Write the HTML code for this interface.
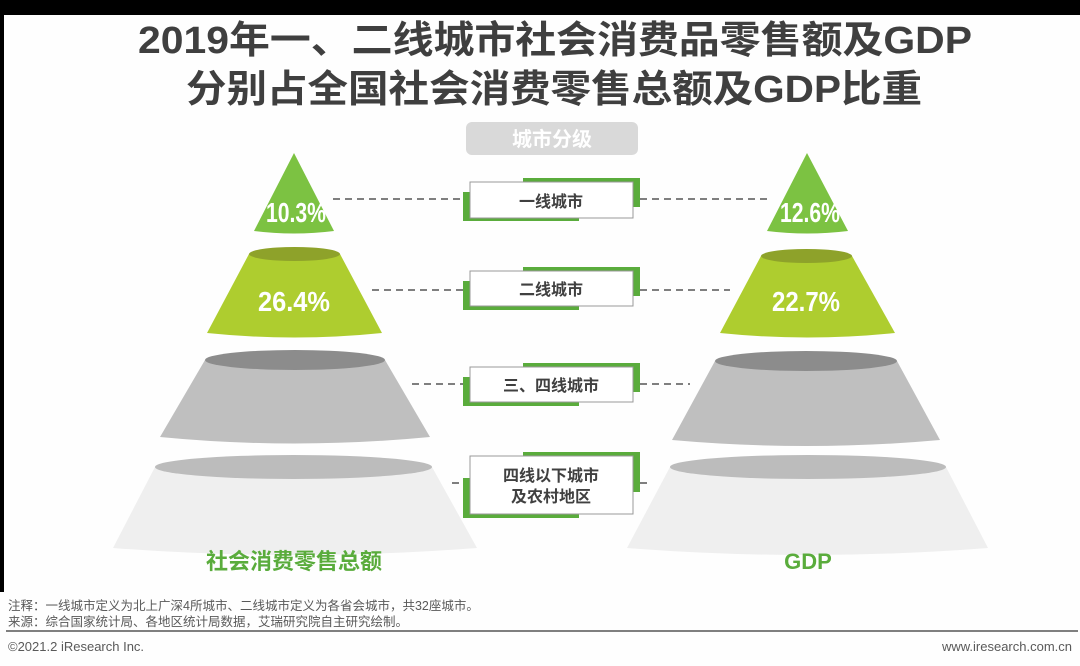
<!DOCTYPE html>
<html><head><meta charset="utf-8"><style>
body{margin:0;width:1080px;height:666px;overflow:hidden;background:#fff;}
svg{display:block}
text{font-family:"Liberation Sans","Noto Sans CJK SC",sans-serif;}
</style></head><body>
<svg width="1080" height="666" viewBox="0 0 1080 666">
<rect width="1080" height="666" fill="#fefefe"/>
<rect x="0" y="0" width="1080" height="15" fill="#000"/>
<rect x="0" y="0" width="4" height="592" fill="#000"/>
<text x="555" y="53" text-anchor="middle" font-size="38" font-weight="bold" fill="#3f3f3f" textLength="834" lengthAdjust="spacingAndGlyphs">2019年一、二线城市社会消费品零售额及GDP</text>
<text x="554" y="102" text-anchor="middle" font-size="38" font-weight="bold" fill="#3f3f3f" textLength="736" lengthAdjust="spacingAndGlyphs">分别占全国社会消费零售总额及GDP比重</text>
<rect x="466" y="122" width="172" height="33" rx="6" fill="#d9d9d9"/>
<text x="552" y="146" text-anchor="middle" font-size="20" font-weight="bold" fill="#fff">城市分级</text>
<g stroke="#555" stroke-width="1.5" stroke-dasharray="7,5">
<line x1="333" y1="199" x2="463" y2="199"/><line x1="640" y1="199" x2="770" y2="199"/>
<line x1="372" y1="290" x2="463" y2="290"/><line x1="640" y1="290" x2="730" y2="290"/>
<line x1="412" y1="384" x2="463" y2="384"/><line x1="640" y1="384" x2="690" y2="384"/>
<line x1="452" y1="483" x2="463" y2="483"/><line x1="640" y1="483" x2="650" y2="483"/>
</g>
<path d="M294,153 L334,231 Q294,236 254,231 Z" fill="#7cc242"/>
<path d="M249,254 L340,254 L382,333 Q294,342 207,333 Z" fill="#aecd2f"/>
<ellipse cx="294.5" cy="254" rx="45.5" ry="7" fill="#8ea22a"/>
<path d="M205,360 L385,360 L430,437 Q294,450 160,437 Z" fill="#bfbfbf"/>
<ellipse cx="295" cy="360" rx="90" ry="10" fill="#8c8c8c"/>
<path d="M155,467 L432,467 L477,548 Q294,562 113,548 Z" fill="#efefef"/>
<ellipse cx="293.5" cy="467" rx="138.5" ry="12" fill="#bcbcbc"/>
<path d="M807,153 L848,231 Q807,236 767,231 Z" fill="#7cc242"/>
<path d="M761,256 L852,256 L895,333 Q807,342 720,333 Z" fill="#aecd2f"/>
<ellipse cx="806.5" cy="256" rx="45.5" ry="7" fill="#8ea22a"/>
<path d="M715,361 L897,361 L940,440 Q807,452 672,440 Z" fill="#bfbfbf"/>
<ellipse cx="806" cy="361" rx="91" ry="10" fill="#8c8c8c"/>
<path d="M670,467 L946,467 L988,548 Q807,562 627,548 Z" fill="#efefef"/>
<ellipse cx="808" cy="467" rx="138" ry="12" fill="#bcbcbc"/>
<g font-weight="bold" fill="#fff" font-size="28" text-anchor="middle">
<text x="296" y="222" textLength="60" lengthAdjust="spacingAndGlyphs">10.3%</text>
<text x="294" y="311" textLength="72" lengthAdjust="spacingAndGlyphs">26.4%</text>
<text x="810" y="222" textLength="60" lengthAdjust="spacingAndGlyphs">12.6%</text>
<text x="806" y="311" textLength="68" lengthAdjust="spacingAndGlyphs">22.7%</text>
</g>
<g>
<rect x="523" y="178" width="117" height="29" fill="#5aac3c"/><rect x="463" y="192" width="116" height="29" fill="#5aac3c"/>
<rect x="470" y="182" width="163" height="36" fill="#fff" stroke="#999" stroke-width="1"/>
<text x="551" y="207" text-anchor="middle" font-size="16" font-weight="bold" fill="#404040">一线城市</text>
<rect x="523" y="267" width="117" height="29" fill="#5aac3c"/><rect x="463" y="281" width="116" height="29" fill="#5aac3c"/>
<rect x="470" y="271" width="163" height="35" fill="#fff" stroke="#999" stroke-width="1"/>
<text x="551" y="295" text-anchor="middle" font-size="16" font-weight="bold" fill="#404040">二线城市</text>
<rect x="523" y="363" width="117" height="29" fill="#5aac3c"/><rect x="463" y="377" width="116" height="29" fill="#5aac3c"/>
<rect x="470" y="367" width="163" height="35" fill="#fff" stroke="#999" stroke-width="1"/>
<text x="551" y="391" text-anchor="middle" font-size="16" font-weight="bold" fill="#404040">三、四线城市</text>
<rect x="523" y="452" width="117" height="40" fill="#5aac3c"/><rect x="463" y="478" width="116" height="40" fill="#5aac3c"/>
<rect x="470" y="456" width="163" height="58" fill="#fff" stroke="#999" stroke-width="1"/>
<text x="551" y="481" text-anchor="middle" font-size="16" font-weight="bold" fill="#404040">四线以下城市</text>
<text x="551" y="502" text-anchor="middle" font-size="16" font-weight="bold" fill="#404040">及农村地区</text>
</g>
<text x="294" y="569" text-anchor="middle" font-size="22" font-weight="bold" fill="#5aac3c">社会消费零售总额</text>
<text x="808" y="569" text-anchor="middle" font-size="22" font-weight="bold" fill="#5aac3c">GDP</text>
<text x="8" y="610" font-size="12.5" fill="#595959">注释：一线城市定义为北上广深4所城市、二线城市定义为各省会城市，共32座城市。</text>
<text x="8" y="626" font-size="12.5" fill="#595959">来源：综合国家统计局、各地区统计局数据，艾瑞研究院自主研究绘制。</text>
<rect x="6" y="630" width="1072" height="2" fill="#7f7f7f"/>
<text x="8" y="651" font-size="13" fill="#595959">©2021.2 iResearch Inc.</text>
<text x="1072" y="651" text-anchor="end" font-size="13" fill="#595959">www.iresearch.com.cn</text>
</svg>
</body></html>
